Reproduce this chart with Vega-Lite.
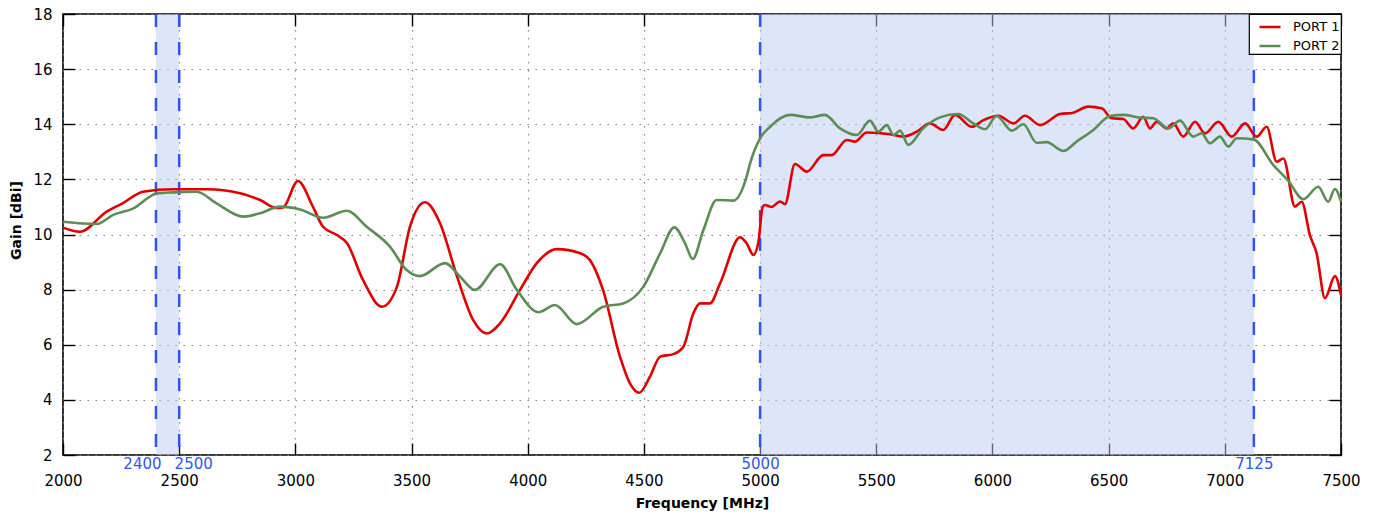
{
  "$schema": "https://vega.github.io/schema/vega-lite/v6.json",
  "width": 1278,
  "height": 441,
  "autosize": {"type": "none"},
  "padding": {"left": 63, "top": 14, "right": 37, "bottom": 63},
  "config": {
    "font": "DejaVu Sans",
    "view": {"stroke": "black", "strokeWidth": 1.6},
    "axis": {"domain": false, "tickColor": "black", "tickWidth": 1.4, "labelColor": "black", "labelFont": "DejaVu Sans", "titleFont": "DejaVu Sans", "titleFontWeight": "bold", "titleFontSize": 14, "titleColor": "black", "labelFontSize": 15},
    "legend": {"strokeColor": "black", "strokeWidth": 1.2, "fillColor": "white", "padding": 1, "rowPadding": 0, "labelFontSize": 13, "labelFont": "DejaVu Sans", "labelColor": "black", "symbolType": "stroke", "symbolSize": 440, "symbolStrokeWidth": 2.5, "symbolOffset": 8, "labelOffset": 11}
  },
  "datasets": {
    "gain": [
      {"f": 2000, "g": 10.25, "port": "PORT 1"},
      {"f": 2073, "g": 10.1, "port": "PORT 1"},
      {"f": 2188, "g": 10.83, "port": "PORT 1"},
      {"f": 2258, "g": 11.14, "port": "PORT 1"},
      {"f": 2344, "g": 11.55, "port": "PORT 1"},
      {"f": 2473, "g": 11.64, "port": "PORT 1"},
      {"f": 2620, "g": 11.64, "port": "PORT 1"},
      {"f": 2762, "g": 11.5, "port": "PORT 1"},
      {"f": 2848, "g": 11.25, "port": "PORT 1"},
      {"f": 2921, "g": 10.96, "port": "PORT 1"},
      {"f": 2947, "g": 10.98, "port": "PORT 1"},
      {"f": 3011, "g": 11.94, "port": "PORT 1"},
      {"f": 3076, "g": 11.0, "port": "PORT 1"},
      {"f": 3119, "g": 10.28, "port": "PORT 1"},
      {"f": 3179, "g": 9.98, "port": "PORT 1"},
      {"f": 3222, "g": 9.69, "port": "PORT 1"},
      {"f": 3291, "g": 8.35, "port": "PORT 1"},
      {"f": 3373, "g": 7.38, "port": "PORT 1"},
      {"f": 3437, "g": 8.1, "port": "PORT 1"},
      {"f": 3493, "g": 10.28, "port": "PORT 1"},
      {"f": 3558, "g": 11.17, "port": "PORT 1"},
      {"f": 3622, "g": 10.42, "port": "PORT 1"},
      {"f": 3696, "g": 8.47, "port": "PORT 1"},
      {"f": 3765, "g": 6.9, "port": "PORT 1"},
      {"f": 3823, "g": 6.41, "port": "PORT 1"},
      {"f": 3881, "g": 6.78, "port": "PORT 1"},
      {"f": 3967, "g": 7.99, "port": "PORT 1"},
      {"f": 4039, "g": 8.96, "port": "PORT 1"},
      {"f": 4125, "g": 9.47, "port": "PORT 1"},
      {"f": 4225, "g": 9.32, "port": "PORT 1"},
      {"f": 4268, "g": 9.07, "port": "PORT 1"},
      {"f": 4324, "g": 7.99, "port": "PORT 1"},
      {"f": 4397, "g": 5.57, "port": "PORT 1"},
      {"f": 4440, "g": 4.6, "port": "PORT 1"},
      {"f": 4480, "g": 4.26, "port": "PORT 1"},
      {"f": 4526, "g": 4.84, "port": "PORT 1"},
      {"f": 4570, "g": 5.57, "port": "PORT 1"},
      {"f": 4627, "g": 5.66, "port": "PORT 1"},
      {"f": 4670, "g": 5.93, "port": "PORT 1"},
      {"f": 4713, "g": 7.14, "port": "PORT 1"},
      {"f": 4741, "g": 7.5, "port": "PORT 1"},
      {"f": 4784, "g": 7.5, "port": "PORT 1"},
      {"f": 4828, "g": 8.23, "port": "PORT 1"},
      {"f": 4914, "g": 9.9, "port": "PORT 1"},
      {"f": 4942, "g": 9.68, "port": "PORT 1"},
      {"f": 4971, "g": 9.26, "port": "PORT 1"},
      {"f": 4992, "g": 9.68, "port": "PORT 1"},
      {"f": 5011, "g": 11.0, "port": "PORT 1"},
      {"f": 5021, "g": 11.07, "port": "PORT 1"},
      {"f": 5050, "g": 11.0, "port": "PORT 1"},
      {"f": 5086, "g": 11.2, "port": "PORT 1"},
      {"f": 5107, "g": 11.1, "port": "PORT 1"},
      {"f": 5150, "g": 12.56, "port": "PORT 1"},
      {"f": 5201, "g": 12.28, "port": "PORT 1"},
      {"f": 5272, "g": 12.88, "port": "PORT 1"},
      {"f": 5308, "g": 12.88, "port": "PORT 1"},
      {"f": 5373, "g": 13.43, "port": "PORT 1"},
      {"f": 5408, "g": 13.37, "port": "PORT 1"},
      {"f": 5459, "g": 13.7, "port": "PORT 1"},
      {"f": 5559, "g": 13.64, "port": "PORT 1"},
      {"f": 5616, "g": 13.55, "port": "PORT 1"},
      {"f": 5674, "g": 13.73, "port": "PORT 1"},
      {"f": 5731, "g": 14.03, "port": "PORT 1"},
      {"f": 5788, "g": 13.79, "port": "PORT 1"},
      {"f": 5839, "g": 14.34, "port": "PORT 1"},
      {"f": 5911, "g": 13.91, "port": "PORT 1"},
      {"f": 5961, "g": 14.15, "port": "PORT 1"},
      {"f": 6025, "g": 14.31, "port": "PORT 1"},
      {"f": 6090, "g": 14.03, "port": "PORT 1"},
      {"f": 6140, "g": 14.31, "port": "PORT 1"},
      {"f": 6205, "g": 13.97, "port": "PORT 1"},
      {"f": 6291, "g": 14.37, "port": "PORT 1"},
      {"f": 6348, "g": 14.42, "port": "PORT 1"},
      {"f": 6412, "g": 14.64, "port": "PORT 1"},
      {"f": 6470, "g": 14.58, "port": "PORT 1"},
      {"f": 6513, "g": 14.22, "port": "PORT 1"},
      {"f": 6563, "g": 14.19, "port": "PORT 1"},
      {"f": 6606, "g": 13.85, "port": "PORT 1"},
      {"f": 6649, "g": 14.27, "port": "PORT 1"},
      {"f": 6678, "g": 13.85, "port": "PORT 1"},
      {"f": 6707, "g": 14.09, "port": "PORT 1"},
      {"f": 6750, "g": 13.85, "port": "PORT 1"},
      {"f": 6778, "g": 14.03, "port": "PORT 1"},
      {"f": 6821, "g": 13.55, "port": "PORT 1"},
      {"f": 6872, "g": 14.09, "port": "PORT 1"},
      {"f": 6915, "g": 13.67, "port": "PORT 1"},
      {"f": 6972, "g": 14.09, "port": "PORT 1"},
      {"f": 7030, "g": 13.55, "port": "PORT 1"},
      {"f": 7087, "g": 14.03, "port": "PORT 1"},
      {"f": 7137, "g": 13.55, "port": "PORT 1"},
      {"f": 7180, "g": 13.91, "port": "PORT 1"},
      {"f": 7223, "g": 12.64, "port": "PORT 1"},
      {"f": 7252, "g": 12.76, "port": "PORT 1"},
      {"f": 7302, "g": 11.01, "port": "PORT 1"},
      {"f": 7331, "g": 11.19, "port": "PORT 1"},
      {"f": 7366, "g": 9.98, "port": "PORT 1"},
      {"f": 7395, "g": 9.32, "port": "PORT 1"},
      {"f": 7431, "g": 7.69, "port": "PORT 1"},
      {"f": 7474, "g": 8.49, "port": "PORT 1"},
      {"f": 7500, "g": 7.8, "port": "PORT 1"},
      {"f": 2000, "g": 10.46, "port": "PORT 2"},
      {"f": 2145, "g": 10.38, "port": "PORT 2"},
      {"f": 2216, "g": 10.71, "port": "PORT 2"},
      {"f": 2303, "g": 10.95, "port": "PORT 2"},
      {"f": 2403, "g": 11.49, "port": "PORT 2"},
      {"f": 2475, "g": 11.53, "port": "PORT 2"},
      {"f": 2575, "g": 11.55, "port": "PORT 2"},
      {"f": 2661, "g": 11.13, "port": "PORT 2"},
      {"f": 2776, "g": 10.65, "port": "PORT 2"},
      {"f": 2848, "g": 10.77, "port": "PORT 2"},
      {"f": 2934, "g": 11.01, "port": "PORT 2"},
      {"f": 3020, "g": 10.91, "port": "PORT 2"},
      {"f": 3120, "g": 10.61, "port": "PORT 2"},
      {"f": 3221, "g": 10.86, "port": "PORT 2"},
      {"f": 3307, "g": 10.28, "port": "PORT 2"},
      {"f": 3407, "g": 9.56, "port": "PORT 2"},
      {"f": 3479, "g": 8.71, "port": "PORT 2"},
      {"f": 3536, "g": 8.49, "port": "PORT 2"},
      {"f": 3644, "g": 8.96, "port": "PORT 2"},
      {"f": 3709, "g": 8.47, "port": "PORT 2"},
      {"f": 3773, "g": 7.99, "port": "PORT 2"},
      {"f": 3881, "g": 8.92, "port": "PORT 2"},
      {"f": 3953, "g": 7.99, "port": "PORT 2"},
      {"f": 4046, "g": 7.18, "port": "PORT 2"},
      {"f": 4117, "g": 7.44, "port": "PORT 2"},
      {"f": 4211, "g": 6.75, "port": "PORT 2"},
      {"f": 4325, "g": 7.38, "port": "PORT 2"},
      {"f": 4411, "g": 7.5, "port": "PORT 2"},
      {"f": 4497, "g": 8.1, "port": "PORT 2"},
      {"f": 4570, "g": 9.32, "port": "PORT 2"},
      {"f": 4631, "g": 10.26, "port": "PORT 2"},
      {"f": 4677, "g": 9.68, "port": "PORT 2"},
      {"f": 4710, "g": 9.11, "port": "PORT 2"},
      {"f": 4756, "g": 10.16, "port": "PORT 2"},
      {"f": 4813, "g": 11.25, "port": "PORT 2"},
      {"f": 4885, "g": 11.23, "port": "PORT 2"},
      {"f": 4942, "g": 12.1, "port": "PORT 2"},
      {"f": 4957, "g": 12.58, "port": "PORT 2"},
      {"f": 5000, "g": 13.49, "port": "PORT 2"},
      {"f": 5043, "g": 13.91, "port": "PORT 2"},
      {"f": 5129, "g": 14.34, "port": "PORT 2"},
      {"f": 5215, "g": 14.25, "port": "PORT 2"},
      {"f": 5279, "g": 14.34, "port": "PORT 2"},
      {"f": 5344, "g": 13.85, "port": "PORT 2"},
      {"f": 5416, "g": 13.61, "port": "PORT 2"},
      {"f": 5473, "g": 14.13, "port": "PORT 2"},
      {"f": 5509, "g": 13.73, "port": "PORT 2"},
      {"f": 5545, "g": 13.97, "port": "PORT 2"},
      {"f": 5574, "g": 13.61, "port": "PORT 2"},
      {"f": 5602, "g": 13.77, "port": "PORT 2"},
      {"f": 5638, "g": 13.25, "port": "PORT 2"},
      {"f": 5702, "g": 13.85, "port": "PORT 2"},
      {"f": 5774, "g": 14.25, "port": "PORT 2"},
      {"f": 5853, "g": 14.37, "port": "PORT 2"},
      {"f": 5917, "g": 14.03, "port": "PORT 2"},
      {"f": 5968, "g": 13.82, "port": "PORT 2"},
      {"f": 6018, "g": 14.3, "port": "PORT 2"},
      {"f": 6083, "g": 13.77, "port": "PORT 2"},
      {"f": 6133, "g": 14.0, "port": "PORT 2"},
      {"f": 6190, "g": 13.33, "port": "PORT 2"},
      {"f": 6233, "g": 13.35, "port": "PORT 2"},
      {"f": 6305, "g": 13.03, "port": "PORT 2"},
      {"f": 6362, "g": 13.37, "port": "PORT 2"},
      {"f": 6434, "g": 13.79, "port": "PORT 2"},
      {"f": 6506, "g": 14.3, "port": "PORT 2"},
      {"f": 6563, "g": 14.34, "port": "PORT 2"},
      {"f": 6635, "g": 14.24, "port": "PORT 2"},
      {"f": 6692, "g": 14.22, "port": "PORT 2"},
      {"f": 6757, "g": 13.85, "port": "PORT 2"},
      {"f": 6807, "g": 14.13, "port": "PORT 2"},
      {"f": 6864, "g": 13.55, "port": "PORT 2"},
      {"f": 6900, "g": 13.67, "port": "PORT 2"},
      {"f": 6936, "g": 13.31, "port": "PORT 2"},
      {"f": 6979, "g": 13.55, "port": "PORT 2"},
      {"f": 7015, "g": 13.19, "port": "PORT 2"},
      {"f": 7051, "g": 13.49, "port": "PORT 2"},
      {"f": 7123, "g": 13.45, "port": "PORT 2"},
      {"f": 7209, "g": 12.52, "port": "PORT 2"},
      {"f": 7273, "g": 11.95, "port": "PORT 2"},
      {"f": 7338, "g": 11.28, "port": "PORT 2"},
      {"f": 7402, "g": 11.73, "port": "PORT 2"},
      {"f": 7445, "g": 11.19, "port": "PORT 2"},
      {"f": 7474, "g": 11.65, "port": "PORT 2"},
      {"f": 7500, "g": 11.19, "port": "PORT 2"}
    ],
    "bands": [
      {"start": 2400, "end": 2500},
      {"start": 5000, "end": 7125}
    ],
    "edges": [
      {"f": 2400},
      {"f": 2500},
      {"f": 5000},
      {"f": 7125}
    ]
  },
  "resolve": {"axis": {"x": "independent", "y": "independent"}},
  "layer": [
    {
      "data": {"name": "bands"},
      "mark": {"type": "rect", "fill": "#b9cdf2", "opacity": 0.5},
      "encoding": {
        "x": {
          "field": "start", "type": "quantitative",
          "scale": {"domain": [2000, 7500], "nice": false, "zero": false},
          "axis": {"orient": "bottom", "title": "Frequency [MHz]", "values": [2000, 2500, 3000, 3500, 4000, 4500, 5000, 5500, 6000, 6500, 7000, 7500], "format": "d", "grid": true, "gridColor": "#808080", "gridDash": [1.5, 6.5], "gridWidth": 1.2, "tickSize": -12, "labelPadding": 30, "titlePadding": 8, "labelFlush": false}
        },
        "x2": {"field": "end"}
      }
    },
    {
      "data": {"name": "edges"},
      "mark": {"type": "rule", "color": "#2f55f0", "strokeWidth": 2.5, "strokeDash": [13, 15]},
      "encoding": {
        "x": {
          "field": "f", "type": "quantitative",
          "scale": {"domain": [2000, 7500], "nice": false, "zero": false},
          "axis": {"orient": "bottom", "title": null, "values": [2400, 2500, 5000, 7125], "format": "d", "grid": false, "ticks": false, "labelColor": "#3355ee", "labelPadding": 1, "labelFlush": false, "labelOverlap": false, "labelOffset": {"expr": "datum.value == 2400 ? -14 : datum.value == 2500 ? 14 : 0"}}
        }
      }
    },
    {
      "data": {"name": "gain"},
      "mark": {"type": "line", "strokeWidth": 2.6, "interpolate": "monotone"},
      "encoding": {
        "x": {
          "field": "f", "type": "quantitative",
          "scale": {"domain": [2000, 7500], "nice": false, "zero": false},
          "axis": {"orient": "top", "title": null, "values": [2000, 2500, 3000, 3500, 4000, 4500, 5000, 5500, 6000, 6500, 7000, 7500], "labels": false, "grid": false, "tickSize": -12}
        },
        "y": {
          "field": "g", "type": "quantitative",
          "scale": {"domain": [2, 18], "nice": false, "zero": false},
          "axis": {"orient": "left", "title": "Gain [dBi]", "values": [2, 4, 6, 8, 10, 12, 14, 16, 18], "grid": true, "gridColor": "#808080", "gridDash": [1.5, 6.5], "gridWidth": 1.2, "tickSize": -12, "labelPadding": 23, "titlePadding": 9, "titleY": 206, "labelFlush": false}
        },
        "color": {
          "field": "port", "type": "nominal",
          "scale": {"domain": ["PORT 1", "PORT 2"], "range": ["#e00000", "#5c8d55"]},
          "legend": {"title": null, "orient": "top-right", "offset": 0, "labelExpr": "datum.label + '\u2003\u2003'"}
        }
      }
    },
    {
      "data": {"name": "gain"},
      "mark": {"type": "line", "opacity": 0},
      "encoding": {
        "x": {"field": "f", "type": "quantitative", "scale": {"domain": [2000, 7500], "nice": false, "zero": false}, "axis": null},
        "y": {
          "field": "g", "type": "quantitative",
          "scale": {"domain": [2, 18], "nice": false, "zero": false},
          "axis": {"orient": "right", "title": null, "values": [2, 4, 6, 8, 10, 12, 14, 16, 18], "labels": false, "grid": false, "tickSize": -12}
        },
        "detail": {"field": "port", "type": "nominal"}
      }
    }
  ]
}
